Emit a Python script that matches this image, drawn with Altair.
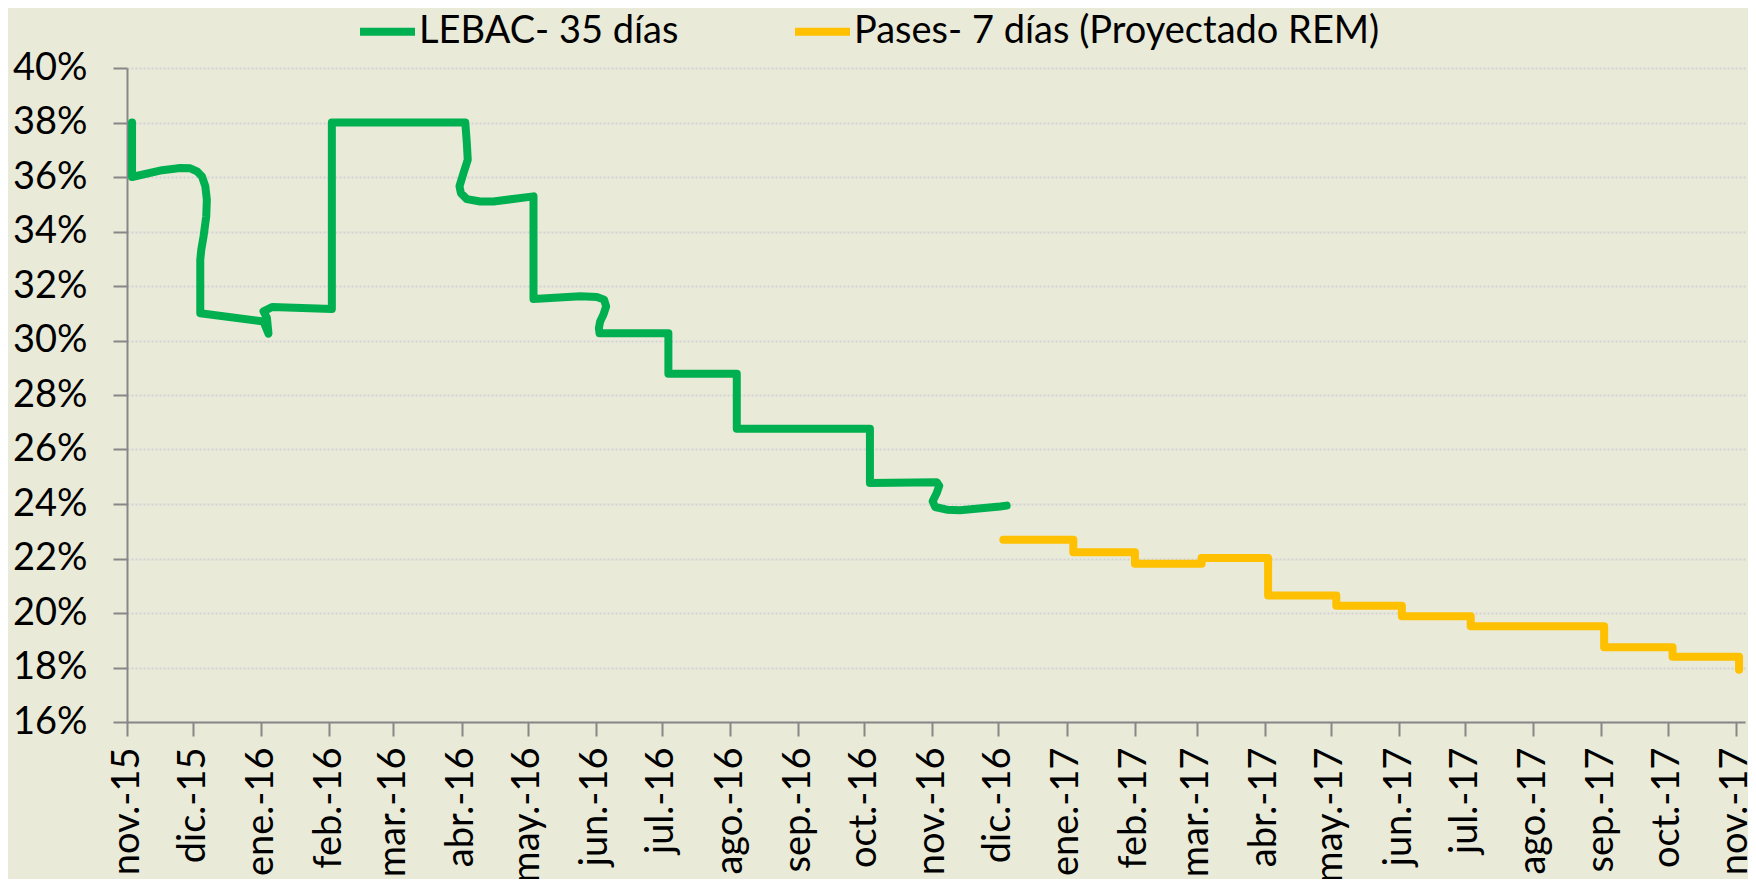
import altair as alt
import pandas as pd

# ---------------- data ----------------
series_names = ["LEBAC- 35 días", "Pases- 7 días (Proyectado REM)"]
series_colors = ["#00B050", "#FFC000"]

lebac_dates = [
    "2015-11-03T07:00", "2015-11-03T07:00", "2015-11-17T00:00", "2015-11-25T05:00",
    "2015-11-29T18:00", "2015-12-02T19:00", "2015-12-05T02:00", "2015-12-06T14:00",
    "2015-12-07T07:00", "2015-12-07T00:00", "2015-12-05T19:00", "2015-12-04T18:00",
    "2015-12-04T07:00", "2015-12-04T07:00",
    "2016-01-02T01:00", "2016-01-04T07:00", "2016-01-03T14:00", "2016-01-02T01:00",
    "2016-01-05T22:00", "2016-02-02T02:00", "2016-02-02T02:00", "2016-03-02T00:00",
    "2016-04-02T17:00", "2016-04-03T10:00", "2016-04-03T20:00", "2016-04-01T22:00",
    "2016-03-31T02:00", "2016-03-31T17:00", "2016-04-03T10:00", "2016-04-09T12:00",
    "2016-04-15T12:00", "2016-05-03T17:00", "2016-05-03T17:00", "2016-05-25T00:00",
    "2016-06-01T12:00", "2016-06-04T19:00", "2016-06-05T17:00", "2016-06-04T12:00",
    "2016-06-03T00:00", "2016-06-02T10:00", "2016-06-02T17:00", "2016-07-04T00:00",
    "2016-07-04T00:00", "2016-08-04T02:00", "2016-08-04T02:00", "2016-10-03T14:00",
    "2016-10-03T14:00", "2016-11-02T22:00", "2016-11-04T02:00", "2016-11-02T22:00",
    "2016-11-01T02:00", "2016-11-02T05:00", "2016-11-07T12:00", "2016-11-13T12:00",
    "2016-12-01T17:00", "2016-12-04T17:00",
]
lebac_values = [
    38.0, 36.0, 36.25, 36.33,
    36.32, 36.21, 36.02, 35.66,
    35.17, 34.55, 33.82, 33.33,
    32.96, 31.0,
    30.7, 30.25, 30.83, 31.07,
    31.23, 31.16, 38.0, 38.0,
    38.0, 37.25, 36.63, 36.15,
    35.66, 35.41, 35.19, 35.1,
    35.1, 35.29, 31.52, 31.62,
    31.6, 31.5, 31.25, 30.95,
    30.7, 30.46, 30.27, 30.27,
    28.78, 28.78, 26.76, 26.76,
    24.77, 24.8, 24.67, 24.4,
    24.1, 23.89, 23.79, 23.77,
    23.91, 23.94,
]

pases_dates = [
    "2016-12-03T05:00", "2017-01-04T00:00", "2017-01-04T00:00", "2017-02-01T00:00",
    "2017-02-01T00:00", "2017-03-03T07:00", "2017-03-03T07:00", "2017-04-02T12:00",
    "2017-04-02T12:00", "2017-05-03T12:00", "2017-05-03T12:00", "2017-06-02T07:00",
    "2017-06-02T07:00", "2017-07-03T14:00", "2017-07-03T14:00", "2017-09-02T05:00",
    "2017-09-02T05:00", "2017-10-03T07:00", "2017-10-03T07:00", "2017-11-02T12:00",
    "2017-11-02T12:00",
]
pases_values = [
    22.69, 22.69, 22.23, 22.23,
    21.81, 21.81, 22.02, 22.02,
    20.64, 20.64, 20.27, 20.27,
    19.88, 19.88, 19.51, 19.51,
    18.74, 18.74, 18.39, 18.39,
    17.92,
]

tick_months = [
    (2015, 11), (2015, 12), (2016, 1), (2016, 2), (2016, 3), (2016, 4), (2016, 5),
    (2016, 6), (2016, 7), (2016, 8), (2016, 9), (2016, 10), (2016, 11), (2016, 12),
    (2017, 1), (2017, 2), (2017, 3), (2017, 4), (2017, 5), (2017, 6), (2017, 7),
    (2017, 8), (2017, 9), (2017, 10), (2017, 11),
]
month_names = ["ene.", "feb.", "mar.", "abr.", "may.", "jun.", "jul.", "ago.",
               "sep.", "oct.", "nov.", "dic."]
y_ticks = [16, 18, 20, 22, 24, 26, 28, 30, 32, 34, 36, 38, 40]

# ---------------- table ----------------
rows = []
for i, (d, v) in enumerate(zip(lebac_dates, lebac_values)):
    rows.append({"fecha": d, "tasa": v, "serie": series_names[0], "orden": i})
for i, (d, v) in enumerate(zip(pases_dates, pases_values)):
    rows.append({"fecha": d, "tasa": v, "serie": series_names[1], "orden": i})
df = pd.DataFrame(rows)

FONT = "Lato"
BG = "#E9EAD8"
AXIS_GRAY = "#878787"

month_js = "[" + ",".join("'%s'" % m for m in month_names) + "]"
x_label_expr = month_js + "[month(datum.value)] + '-' + timeFormat(datum.value, '%y')"

x_values = [alt.DateTime(year=y, month=m, date=1) for (y, m) in tick_months]

chart = alt.Chart(df).mark_line(
    strokeWidth=8, strokeCap="round", strokeJoin="round"
).encode(
    x=alt.X(
        "fecha:T",
        scale=alt.Scale(domain=[alt.DateTime(year=2015, month=11, date=1),
                                alt.DateTime(year=2017, month=11, date=5, hours=5)]),
        axis=alt.Axis(
            title=None, values=x_values, labelExpr=x_label_expr,
            labelAngle=270, labelFontSize=38, labelFont=FONT, labelColor="#000000",
            labelPadding=11, tickSize=14, tickColor=AXIS_GRAY, tickWidth=2,
            domainColor=AXIS_GRAY, domainWidth=2, grid=False, labelOverlap=False,
            labelFlush=False,
        ),
    ),
    y=alt.Y(
        "tasa:Q",
        scale=alt.Scale(domain=[16, 40], nice=False, zero=False),
        axis=alt.Axis(
            title=None, values=y_ticks, labelExpr="datum.value + '%'",
            labelFontSize=38, labelFont=FONT, labelColor="#000000",
            labelPadding=26, tickSize=14, tickColor=AXIS_GRAY, tickWidth=2,
            domainColor=AXIS_GRAY, domainWidth=2,
            grid=True, gridColor="#D2D2D2", gridDash=[2, 2], gridWidth=2,
        ),
    ),
    color=alt.Color(
        "serie:N",
        scale=alt.Scale(domain=series_names, range=series_colors),
        legend=alt.Legend(
            title=None, orient="none", direction="horizontal",
            legendX=229, legendY=-68,
            symbolType="stroke", symbolSize=3025, symbolStrokeWidth=8,
            labelFontSize=38, labelFont=FONT, labelColor="#000000",
            labelOffset=0, columnPadding=100, labelLimit=800,
        ),
    ),
    order=alt.Order("orden:Q"),
    detail="serie:N",
).properties(
    width=1618,
    height=654,
    autosize=alt.AutoSizeParams(type="none"),
    padding={"left": 119, "top": 60, "right": 3, "bottom": 157},
    background=BG,
).configure_view(
    stroke=None
)

chart.save("out.html", embed_options={"renderer": "svg", "actions": False})
